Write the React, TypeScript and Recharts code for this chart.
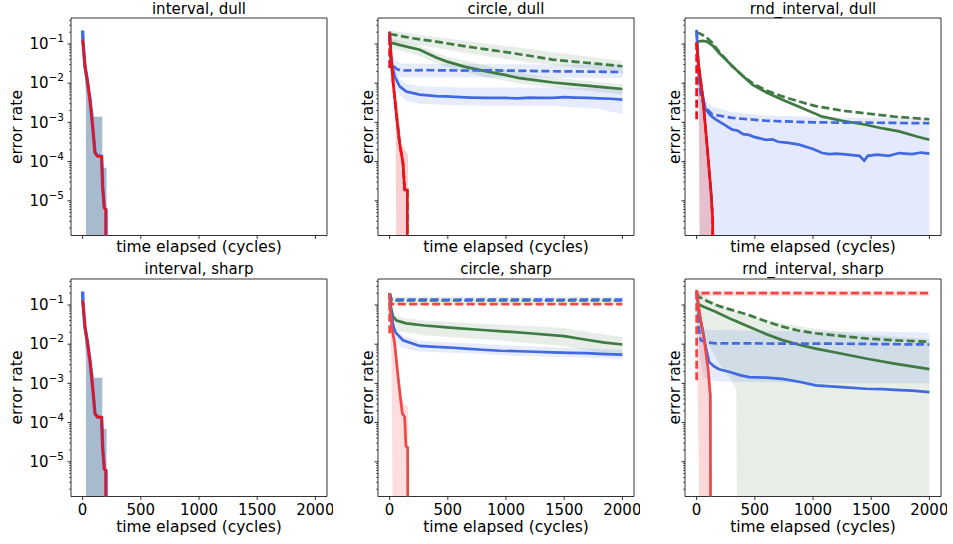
import React from 'react';
import { ComposedChart, Line, Area, XAxis, YAxis, ReferenceArea } from 'recharts';

type Pt = [number, number | null];
type BandPt = [number, number, number];

// stands in for "zero" on the log axis (falls below the visible range)
const Z = 1e-9;

const X_TICKS = [0, 500, 1000, 1500, 2000];
const Y_MAJOR = [1e-5, 1e-4, 1e-3, 1e-2, 1e-1];
const Y_MINOR_STEPS = [2, 3, 4, 5, 6, 7, 8, 9];
const Y_DOMAIN: [number, number] = [1.3e-6, 0.46];
const X_DOMAIN: [number, number] = [-100, 2100];

const TITLES = ['interval, dull', 'circle, dull', 'rnd_interval, dull', 'interval, sharp', 'circle, sharp', 'rnd_interval, sharp'];
const X_LABEL = 'time elapsed (cycles)';
const Y_LABEL = 'error rate';

// ---------- interval (dull and sharp look the same)
const intervalBand: BandPt[] = [[0, 0.1, 0.25], [10, 0.04, 0.1], [20, 0.012, 0.05], [28, 0.005, 0.03], [29, Z, 0.028], [45, Z, 0.012], [60, Z, 0.006], [75, Z, 0.0035], [95, Z, 0.0016], [100, Z, 0.0014], [169, Z, 0.0014], [169, Z, 7e-5], [206, Z, 7e-5]];
const intervalBlue: Pt[] = [[0, 0.22], [3, 0.12], [20, 0.027], [40, 0.012], [63, 0.0038], [86, 8e-4], [106, 1.7e-4], [126, 1.4e-4], [163, 1.35e-4], [172, 2.3e-5], [186, 6.6e-6], [200, 6e-6], [203, Z]];
const intervalRed: Pt[] = [[0, 0.13], [20, 0.027], [40, 0.012], [63, 0.0038], [86, 8e-4], [106, 1.7e-4], [126, 1.4e-4], [163, 1.35e-4], [172, 2.3e-5], [186, 6.6e-6], [200, 6e-6], [203, Z]];

// ---------- circle, dull
const cdGreenDashBand: BandPt[] = [[0, 0.12, 0.22], [400, 0.08, 0.15], [800, 0.05, 0.105], [1200, 0.034, 0.075], [1600, 0.025, 0.052], [2000, 0.02, 0.037]];
const cdGreenBand: BandPt[] = [[0, 0.08, 0.14], [258, 0.05, 0.09], [487, 0.026, 0.048], [831, 0.014, 0.028], [1117, 0.0098, 0.018], [1404, 0.0078, 0.014], [1690, 0.0065, 0.0115], [2000, 0.0052, 0.0095]];
const cdBlueDashBand: BandPt[] = [[0, 0.05, 0.2], [15, 0.018, 0.045], [100, 0.014, 0.032], [600, 0.014, 0.031], [1200, 0.014, 0.03], [2000, 0.0135, 0.03]];
const cdBlueBand: BandPt[] = [[0, 0.1, 0.25], [15, 0.012, 0.045], [43, 0.008, 0.022], [86, 0.005, 0.013], [143, 0.0035, 0.0095], [258, 0.003, 0.0085], [600, 0.0027, 0.0078], [1000, 0.0026, 0.0078], [1400, 0.0026, 0.0078], [1800, 0.0022, 0.0075], [2000, 0.0016, 0.0075]];
const cdRedBand: BandPt[] = [[0, 0.1, 0.2], [20, 0.01, 0.03], [50, 0.002, 0.006], [63, Z, 0.004], [86, Z, 8e-4], [100, Z, 3e-4], [130, Z, 2e-4], [158, Z, 1.5e-4]];
const cdGreenDash: Pt[] = [[0, 0.18], [200, 0.14], [400, 0.115], [600, 0.092], [800, 0.075], [1000, 0.062], [1200, 0.05], [1400, 0.04], [1600, 0.035], [1800, 0.031], [2000, 0.027]];
const cdGreen: Pt[] = [[0, 0.11], [100, 0.092], [258, 0.071], [400, 0.045], [487, 0.036], [650, 0.026], [831, 0.02], [1000, 0.016], [1117, 0.0134], [1250, 0.012], [1404, 0.0104], [1550, 0.0095], [1690, 0.0087], [1850, 0.0078], [2000, 0.0071]];
const cdBlueDash: Pt[] = [[0, 0.2], [10, 0.035], [30, 0.028], [60, 0.023], [100, 0.021], [300, 0.0215], [600, 0.021], [900, 0.0212], [1200, 0.0205], [1500, 0.02], [1800, 0.0197], [2000, 0.0192]];
const cdBlue: Pt[] = [[0, 0.21], [10, 0.05], [25, 0.025], [43, 0.015], [86, 0.0083], [143, 0.0061], [258, 0.0051], [330, 0.0049], [400, 0.0047], [480, 0.0046], [600, 0.0044], [700, 0.0043], [831, 0.0042], [1000, 0.0042], [1100, 0.0041], [1200, 0.0043], [1300, 0.0042], [1404, 0.0042], [1500, 0.0044], [1600, 0.0043], [1700, 0.0042], [1800, 0.0041], [1900, 0.004], [2000, 0.0038]];
const cdRedDash: Pt[] = [[0, 0.15], [0, 0.02], [1, null], [10, 0.05], [28, 0.012], [57, 0.0017], [86, 2.9e-4], [115, 9e-5], [129, 1.9e-5], [152, 1.9e-5], [152, Z]];
const cdRed: Pt[] = [[0, 0.2], [6, 0.105], [28, 0.012], [57, 0.0017], [86, 2.9e-4], [115, 9e-5], [129, 1.9e-5], [152, 1.9e-5], [152, Z]];

// ---------- rnd_interval, dull
const rdBlueBand: BandPt[] = [[0, 0.1, 0.25], [15, 0.003, 0.03], [45, Z, 0.006], [77, Z, 0.0038], [135, Z, 0.0025], [307, Z, 0.0018], [593, Z, 0.0015], [1000, Z, 0.0014], [1500, Z, 0.0013], [2000, Z, 0.0013]];
const rdRedBand: BandPt[] = [[0, 6e-5, 0.12], [3, 0.01, 0.1], [20, 0.002, 0.03], [26, Z, 0.02], [52, Z, 0.006], [95, Z, 3e-4], [124, Z, 4e-5], [140, Z, 1e-5]];
const rdGreenDash: Pt[] = [[0, 0.19], [20, 0.19], [77, 0.155], [135, 0.106], [200, 0.06], [307, 0.027], [400, 0.015], [479, 0.01], [600, 0.0065], [737, 0.0046], [880, 0.0034], [1023, 0.0026], [1250, 0.002], [1453, 0.0017], [1700, 0.0014], [2000, 0.0012]];
const rdGreen: Pt[] = [[0, 0.115], [50, 0.12], [89, 0.115], [140, 0.09], [193, 0.059], [250, 0.04], [307, 0.027], [400, 0.015], [479, 0.0092], [600, 0.0058], [737, 0.0038], [880, 0.0025], [1080, 0.0014], [1250, 0.0011], [1453, 8.7e-4], [1600, 7e-4], [1740, 5.9e-4], [1900, 4.3e-4], [2000, 3.6e-4]];
const rdBlueDash: Pt[] = [[0, 0.22], [15, 0.02], [35, 0.005], [63, 0.0026], [135, 0.0016], [307, 0.0013], [593, 0.0011], [1000, 0.001], [1500, 0.00098], [2000, 0.00095]];
const rdBlue: Pt[] = [[0, 0.23], [15, 0.02], [35, 0.0083], [77, 0.0021], [120, 0.0015], [163, 0.0012], [230, 9e-4], [307, 6.5e-4], [350, 6.2e-4], [400, 5e-4], [450, 4.8e-4], [500, 4.2e-4], [593, 3.6e-4], [650, 3.7e-4], [700, 3.2e-4], [790, 3e-4], [880, 2.7e-4], [1000, 2.1e-4], [1080, 1.65e-4], [1140, 1.55e-4], [1200, 1.6e-4], [1300, 1.5e-4], [1400, 1.4e-4], [1440, 1.05e-4], [1470, 1.4e-4], [1550, 1.5e-4], [1650, 1.4e-4], [1740, 1.65e-4], [1850, 1.55e-4], [1930, 1.7e-4], [2000, 1.6e-4]];
const rdRedDash: Pt[] = [[0, 0.11], [0, 0.0012], [1, null], [20, 0.025], [52, 0.0046], [75, 8e-4], [95, 1.7e-4], [124, 1.6e-5], [138, 3.3e-6], [142, Z]];
const rdRed: Pt[] = [[0, 0.106], [20, 0.025], [52, 0.0046], [75, 8e-4], [95, 1.7e-4], [124, 1.6e-5], [138, 3.3e-6], [142, Z]];

// ---------- circle, sharp
const csDashBand: BandPt[] = [[0, 0.1, 0.16], [2000, 0.1, 0.16]];
const csGreenBand: BandPt[] = [[0, 0.1, 0.22], [20, 0.03, 0.1], [40, 0.022, 0.055], [143, 0.02, 0.045], [300, 0.017, 0.04], [545, 0.015, 0.036], [1000, 0.012, 0.031], [1500, 0.009, 0.026], [2000, 0.0047, 0.015]];
const csBlueBand: BandPt[] = [[0, 0.1, 0.22], [20, 0.015, 0.05], [50, 0.011, 0.025], [115, 0.008, 0.016], [258, 0.0065, 0.012], [545, 0.006, 0.011], [1117, 0.005, 0.009], [1690, 0.0045, 0.0078], [2000, 0.0042, 0.0072]];
const csRedBand: BandPt[] = [[0, 0.05, 0.22], [15, 0.005, 0.06], [34, Z, 0.02], [72, Z, 0.003], [109, Z, 4e-4], [130, Z, 2.7e-4], [160, Z, 2.7e-4]];
const csGreenDash: Pt[] = [[0, 0.2], [15, 0.13], [500, 0.131], [1000, 0.13], [1500, 0.131], [2000, 0.13]];
const csBlueDash: Pt[] = [[0, 0.2], [15, 0.137], [500, 0.136], [1000, 0.137], [1500, 0.136], [2000, 0.137]];
const csRedDash: Pt[] = [[0, 0.019], [0, 0.2], [15, 0.105], [2000, 0.105]];
const csGreen: Pt[] = [[0, 0.2], [10, 0.09], [30, 0.05], [60, 0.04], [143, 0.034], [300, 0.03], [545, 0.026], [800, 0.023], [1000, 0.021], [1200, 0.019], [1500, 0.016], [1690, 0.013], [1850, 0.011], [2000, 0.0098]];
const csBlue: Pt[] = [[0, 0.2], [10, 0.08], [30, 0.03], [50, 0.02], [115, 0.0126], [258, 0.009], [400, 0.0085], [545, 0.0081], [650, 0.0077], [800, 0.0072], [950, 0.0068], [1117, 0.0066], [1250, 0.0064], [1400, 0.0062], [1550, 0.006], [1690, 0.0059], [1850, 0.0056], [2000, 0.0054]];
const csRed: Pt[] = [[0, 0.2], [5, 0.08], [20, 0.025], [43, 0.0107], [72, 0.0015], [90, 5e-4], [109, 1.7e-4], [129, 1.4e-4], [140, 2.5e-5], [155, 2.3e-5], [157, Z]];

// ---------- rnd_interval, sharp
const rsRedDashBand: BandPt[] = [[0, 0.17, 0.23], [2000, 0.17, 0.23]];
const rsGreenBand: BandPt[] = [[0, 0.05, 0.25], [100, 0.01, 0.15], [200, 0.003, 0.1], [300, 0.0012, 0.075], [340, 7e-4, 0.065], [353, Z, 0.063], [600, Z, 0.042], [900, Z, 0.028], [1200, Z, 0.021], [1500, Z, 0.017], [2000, Z, 0.0135]];
const rsBlueBand: BandPt[] = [[0, 0.05, 0.25], [30, 0.004, 0.04], [60, 0.0015, 0.025], [107, 0.0012, 0.023], [200, 0.0011, 0.023], [500, 0.0011, 0.022], [1000, 0.001, 0.021], [1500, 0.001, 0.021], [2000, 0.001, 0.02]];
const rsRedBand: BandPt[] = [[0, 5e-5, 0.25], [3, 0.02, 0.2], [35, Z, 0.06], [63, Z, 0.02], [101, Z, 0.003], [125, Z, 0.001]];
const rsGreenDash: Pt[] = [[0, 0.2], [20, 0.16], [80, 0.13], [163, 0.1], [300, 0.075], [450, 0.055], [600, 0.038], [737, 0.028], [880, 0.022], [1023, 0.019], [1250, 0.016], [1453, 0.014], [1700, 0.0125], [2000, 0.0115]];
const rsGreen: Pt[] = [[0, 0.11], [60, 0.09], [163, 0.067], [300, 0.043], [450, 0.028], [600, 0.018], [737, 0.0127], [880, 0.0097], [1023, 0.0077], [1250, 0.0057], [1453, 0.0043], [1700, 0.0032], [2000, 0.0023]];
const rsBlueDash: Pt[] = [[0, 0.22], [15, 0.03], [35, 0.0126], [100, 0.011], [163, 0.0105], [600, 0.0104], [1200, 0.0103], [2000, 0.0098]];
const rsBlue: Pt[] = [[0, 0.24], [20, 0.06], [49, 0.025], [80, 0.008], [107, 0.0035], [150, 0.0027], [193, 0.0023], [300, 0.0019], [380, 0.0016], [450, 0.00144], [600, 0.0014], [737, 0.0013], [880, 0.0011], [1023, 8.9e-4], [1250, 8e-4], [1453, 7.3e-4], [1600, 7.1e-4], [1700, 6.8e-4], [1850, 6.5e-4], [2000, 6e-4]];
const rsRedDash: Pt[] = [[0, 0.0012], [0, 0.2], [2000, 0.2]];
const rsRed: Pt[] = [[0, 0.24], [30, 0.05], [63, 0.014], [101, 0.002], [112, 7.3e-4], [118, 5e-4], [121, Z]];

const BLUE = '#4169e1';
const GREEN = '#3f7a43';
const RED = '#e8141c';
const RED_LIGHT = '#ef4646';

const PW = 256;
const PH = 217.5;
const LEFTS = [71, 378, 685];
const TOPS = [18.3, 278.8];
const YW = 64;
const MT = 6;
const MR = 6;
const XH = 26;

const yTicks = [
  ...Y_MAJOR,
  ...[1e-6, 1e-5, 1e-4, 1e-3, 1e-2, 1e-1].flatMap((d) => Y_MINOR_STEPS.map((k) => k * d)),
].filter((v) => v >= Y_DOMAIN[0] && v <= Y_DOMAIN[1]);

type Band = { pts: BandPt[]; fill: string; opacity: number };
type Series = { pts: Pt[]; color: string; dashed?: boolean; width?: number };
type Spec = { bands: Band[]; lines: Series[] };

const intervalSpec: Spec = {
  bands: [{ pts: intervalBand, fill: '#a3b7cb', opacity: 0.95 }],
  lines: [
    { pts: intervalBlue, color: BLUE, width: 3.4 },
    { pts: intervalRed, color: RED, width: 2.6 },
  ],
};

const SPECS: Spec[] = [
  intervalSpec,
  {
    bands: [
      { pts: cdGreenDashBand, fill: GREEN, opacity: 0.13 },
      { pts: cdGreenBand, fill: GREEN, opacity: 0.13 },
      { pts: cdBlueDashBand, fill: BLUE, opacity: 0.13 },
      { pts: cdBlueBand, fill: BLUE, opacity: 0.13 },
      { pts: cdRedBand, fill: RED, opacity: 0.2 },
    ],
    lines: [
      { pts: cdGreenDash, color: GREEN, dashed: true },
      { pts: cdGreen, color: GREEN },
      { pts: cdBlueDash, color: BLUE, dashed: true },
      { pts: cdBlue, color: BLUE },
      { pts: cdRedDash, color: RED, dashed: true },
      { pts: cdRed, color: RED },
    ],
  },
  {
    bands: [
      { pts: rdBlueBand, fill: BLUE, opacity: 0.14 },
      { pts: rdRedBand, fill: RED, opacity: 0.2 },
    ],
    lines: [
      { pts: rdGreenDash, color: GREEN, dashed: true },
      { pts: rdGreen, color: GREEN },
      { pts: rdBlueDash, color: BLUE, dashed: true },
      { pts: rdBlue, color: BLUE },
      { pts: rdRedDash, color: RED, dashed: true },
      { pts: rdRed, color: RED },
    ],
  },
  intervalSpec,
  {
    bands: [
      { pts: csDashBand, fill: GREEN, opacity: 0.13 },
      { pts: csGreenBand, fill: GREEN, opacity: 0.13 },
      { pts: csBlueBand, fill: BLUE, opacity: 0.13 },
      { pts: csRedBand, fill: RED, opacity: 0.14 },
    ],
    lines: [
      { pts: csGreenDash, color: GREEN, dashed: true },
      { pts: csBlueDash, color: BLUE, dashed: true },
      { pts: csRedDash, color: RED_LIGHT, dashed: true },
      { pts: csGreen, color: GREEN },
      { pts: csBlue, color: BLUE },
      { pts: csRed, color: RED_LIGHT },
    ],
  },
  {
    bands: [
      { pts: rsGreenBand, fill: GREEN, opacity: 0.13 },
      { pts: rsBlueBand, fill: BLUE, opacity: 0.13 },
      { pts: rsRedBand, fill: RED, opacity: 0.16 },
      { pts: rsRedDashBand, fill: RED, opacity: 0.14 },
    ],
    lines: [
      { pts: rsGreenDash, color: GREEN, dashed: true },
      { pts: rsGreen, color: GREEN },
      { pts: rsBlueDash, color: BLUE, dashed: true },
      { pts: rsBlue, color: BLUE },
      { pts: rsRed, color: RED_LIGHT },
      { pts: rsRedDash, color: RED_LIGHT, dashed: true },
    ],
  },
];

const FONT = 'DejaVu Sans, sans-serif';

const YTick = (props: any) => {
  const { x, y, payload, show } = props;
  const v = payload.value as number;
  const e = Math.log10(v);
  const major = Math.abs(e - Math.round(e)) < 1e-6;
  const len = major ? 3.5 : 2;
  return (
    <g>
      <line x1={x - len} x2={x} y1={y} y2={y} stroke="#000" strokeWidth={major ? 0.8 : 0.6} />
      {major && show && (
        <text x={x - 7} y={y + 5.2} textAnchor="end" fontFamily={FONT} fontSize={15} fill="#000">
          10
          <tspan dy={-7} fontSize={10.5}>{'\u2212' + Math.abs(Math.round(e))}</tspan>
        </text>
      )}
    </g>
  );
};

const XTick = (props: any) => {
  const { x, y, payload, show } = props;
  return (
    <g>
      <line x1={x} x2={x} y1={y} y2={y + 3.5} stroke="#000" strokeWidth={0.8} />
      {show && (
        <text x={x} y={y + 18.5} textAnchor="middle" fontFamily={FONT} fontSize={15} fill="#000">
          {payload.value}
        </text>
      )}
    </g>
  );
};

const Panel = ({ spec, left, top, showY, showX }: { spec: Spec; left: number; top: number; showY: boolean; showX: boolean }) => (
  <div style={{ position: 'absolute', left: left - YW, top: top - MT }}>
    <ComposedChart width={YW + PW + MR} height={MT + PH + XH} margin={{ top: MT, right: MR, bottom: 0, left: 0 }}>
      <XAxis
        dataKey="x"
        type="number"
        domain={X_DOMAIN}
        ticks={X_TICKS}
        allowDataOverflow
        interval={0}
        height={XH}
        tickSize={0}
        tickMargin={0}
        axisLine={false}
        tickLine={false}
        tick={(p: any) => <XTick {...p} show={showX} />}
      />
      <YAxis
        type="number"
        scale="log"
        domain={Y_DOMAIN}
        ticks={yTicks}
        allowDataOverflow
        interval={0}
        width={YW}
        tickSize={0}
        tickMargin={0}
        axisLine={false}
        tickLine={false}
        tick={(p: any) => <YTick {...p} show={showY} />}
      />
      {spec.bands.map((b, i) => (
        <Area
          key={'b' + i}
          data={b.pts.map(([x, lo, hi]) => ({ x, r: [lo, hi] }))}
          dataKey="r"
          type="linear"
          stroke="none"
          fill={b.fill}
          fillOpacity={b.opacity}
          dot={false}
          activeDot={false}
          isAnimationActive={false}
        />
      ))}
      {spec.lines.map((s, i) => (
        <Line
          key={'l' + i}
          data={s.pts.map(([x, y]) => ({ x, y }))}
          dataKey="y"
          type="linear"
          stroke={s.color}
          strokeWidth={s.width ?? 2.7}
          strokeDasharray={s.dashed ? '8 3.5' : undefined}
          dot={false}
          activeDot={false}
          isAnimationActive={false}
        />
      ))}
      <ReferenceArea x1={X_DOMAIN[0]} x2={X_DOMAIN[1]} y1={Y_DOMAIN[0]} y2={Y_DOMAIN[1]} fill="none" stroke="#000" strokeWidth={0.8} ifOverflow="visible" />
    </ComposedChart>
  </div>
);

const LABEL_X = [LEFTS[0] - 49.3, LEFTS[1] - 4.7, LEFTS[2] - 5];

export default function App() {
  return (
    <div style={{ position: 'absolute', left: 0, top: 0, width: 953, height: 544, background: '#fff', fontFamily: FONT }}>
      <svg width={953} height={544} style={{ position: 'absolute', left: 0, top: 0 }}>
        {TITLES.map((t, i) => {
          const c = i % 3;
          const r = Math.floor(i / 3);
          return (
            <text key={'t' + i} x={LEFTS[c] + PW / 2} y={TOPS[r] - 4.5} textAnchor="middle" fontFamily={FONT} fontSize={15} fill="#000">
              {t}
            </text>
          );
        })}
        {TITLES.map((_, i) => {
          const c = i % 3;
          const r = Math.floor(i / 3);
          return (
            <text key={'x' + i} x={LEFTS[c] + PW / 2} y={TOPS[r] + PH + (r === 0 ? 16 : 36)} textAnchor="middle" fontFamily={FONT} fontSize={15.5} fill="#000">
              {X_LABEL}
            </text>
          );
        })}
        {TITLES.map((_, i) => {
          const c = i % 3;
          const r = Math.floor(i / 3);
          const cy = TOPS[r] + PH / 2;
          return (
            <text key={'y' + i} x={LABEL_X[c]} y={cy} transform={`rotate(-90 ${LABEL_X[c]} ${cy})`} textAnchor="middle" fontFamily={FONT} fontSize={15.5} fill="#000">
              {Y_LABEL}
            </text>
          );
        })}
      </svg>
      {SPECS.map((s, i) => (
        <Panel key={i} spec={s} left={LEFTS[i % 3]} top={TOPS[Math.floor(i / 3)]} showY={i % 3 === 0} showX={i >= 3} />
      ))}
    </div>
  );
}
